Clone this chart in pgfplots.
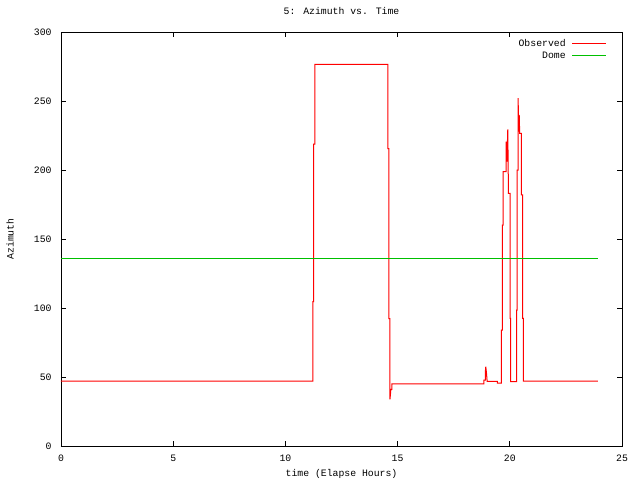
\documentclass[border=0pt]{standalone}
\usepackage{fontspec}
\setmainfont{Liberation Mono}
\usepackage{pgfplots}
\pgfplotsset{compat=1.18}
\definecolor{obsred}{RGB}{255,0,0}
\definecolor{domegreen}{RGB}{0,192,0}
\begin{document}
\fontsize{9.8}{11}\selectfont
\begin{tikzpicture}[x=1pt,y=1pt]
\useasboundingbox (0,0) rectangle (640,480);
\begin{axis}[
    at={(61pt,34pt)}, anchor=south west,
    scale only axis, width=561pt, height=414pt,
    xmin=0, xmax=25, ymin=0, ymax=300,
    xtick={0,5,...,25}, ytick={0,50,...,300},
    minor tick num=0,
    tick align=inside, major tick length=5pt,
    axis line style={line width=0.8pt, black},
    every tick/.append style={line width=0.8pt, black},
    /pgf/number format/assume math mode=true,
    tick label style={font=\fontsize{9.8}{11}\selectfont},
    xticklabel style={anchor=base, yshift=-15pt},
    yticklabel style={anchor=east, xshift=-6pt},
    title={5: Azimuth vs. Time},
    title style={at={(axis description cs:0.5,1)}, anchor=base, yshift=12pt},
    xlabel={time (Elapse Hours)},
    xlabel style={at={(axis description cs:0.5,0)}, anchor=base, yshift=-30pt},
    ylabel={Azimuth},
    ylabel style={at={(axis description cs:-0.0909,0.5)}, anchor=center},
    legend style={draw=none, fill=none, at={(axis description cs:1,1)}, anchor=north east,
        xshift=-12pt, yshift=-3pt, font=\fontsize{9.8}{11}\selectfont,
        /tikz/every odd column/.append style={column sep=4pt}},
    legend cell align=right,
    legend plot pos=right,
]
\addlegendimage{color=obsred, line width=1pt, legend image post style={xscale=2}}
\addlegendentry{Observed}
\addlegendimage{color=domegreen, line width=1pt, legend image post style={xscale=2}}
\addlegendentry{Dome}
\addplot[color=obsred, line width=1pt, forget plot]
  coordinates {
    (0,47) (11.22,47) (11.22,104.6) (11.26,104.6) (11.26,218.8) (11.31,218.8)
    (11.31,276.6) (14.57,276.6) (14.57,215.4) (14.61,215.4) (14.61,92.3)
    (14.66,92.3) (14.66,33.8) (14.70,41) (14.75,41) (14.75,45) (18.85,45)
    (18.85,47.8) (18.91,47.8) (18.91,53.8) (18.93,57.5) (18.96,52.9) (18.99,46.9)
    (19.45,46.9) (19.45,45.5) (19.63,45.5) (19.63,84) (19.67,84) (19.67,160)
    (19.70,160) (19.70,198.8) (19.84,198.8) (19.84,220.5) (19.87,206) (19.91,229.5)
    (19.94,183) (20.01,183) (20.01,92.5) (20.04,92.5) (20.04,46.6) (20.30,46.6)
    (20.30,98.5) (20.33,98.5) (20.33,200) (20.37,200) (20.37,252) (20.40,227.8)
    (20.42,240) (20.44,226.6) (20.52,226.6) (20.52,181.9) (20.57,181.9)
    (20.57,92.5) (20.61,92.5) (20.61,47) (23.93,47)
};
\addplot[color=domegreen, line width=1pt, forget plot]
  coordinates {
    (0,136.2) (23.93,136.2)
};
\end{axis}
\end{tikzpicture}
\end{document}
